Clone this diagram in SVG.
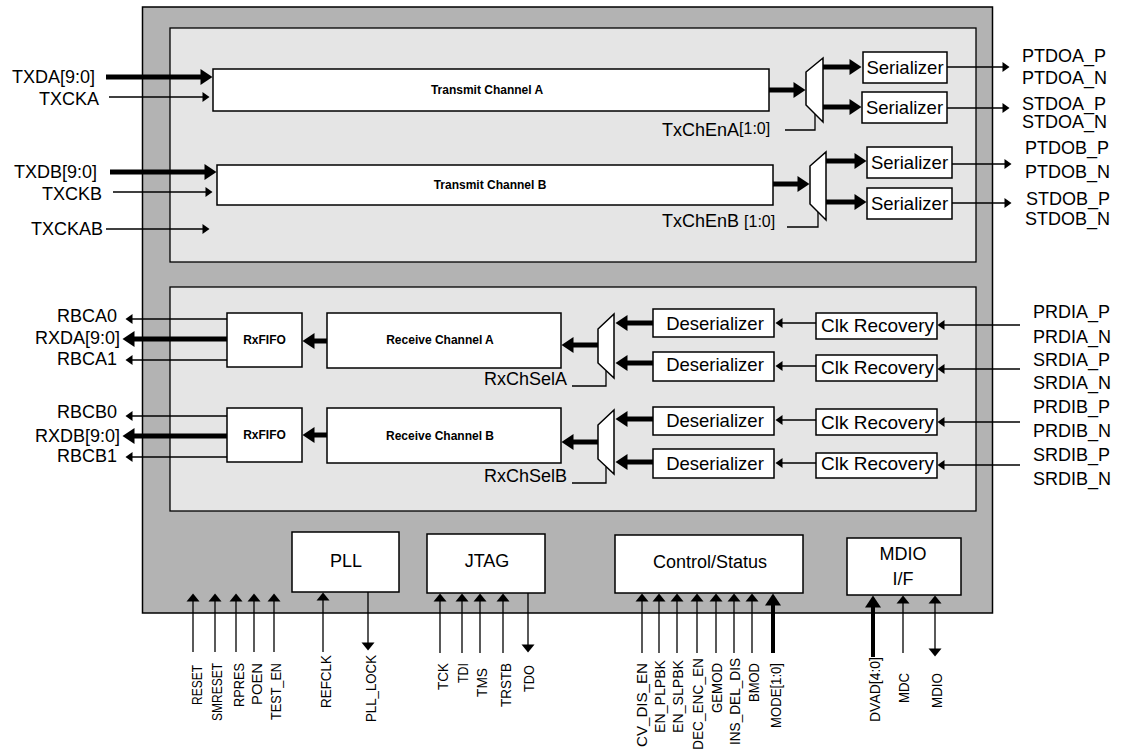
<svg xmlns="http://www.w3.org/2000/svg" width="1125" height="752" viewBox="0 0 1125 752">
<style>
text{font-family:"Liberation Sans",Arial,sans-serif;fill:#000}
.lbl{font-size:18px}
.bt{font-size:18.5px;text-anchor:middle}
.bb{font-size:12px;font-weight:bold;text-anchor:middle}
.pin{font-size:14px;text-anchor:end}
.box{fill:#fff;stroke:#000;stroke-width:1.5}
.thin{fill:none;stroke:#000;stroke-width:1.3;marker-end:url(#ah)}
.thick{fill:none;stroke:#000;stroke-width:5;marker-end:url(#ahT)}
.thickv{fill:none;stroke:#000;stroke-width:4;marker-end:url(#ahT)}
.pinup{fill:none;stroke:#000;stroke-width:1.3;marker-end:url(#ahP)}
.ctl{fill:none;stroke:#000;stroke-width:1.3}
</style>
<defs>
<marker id="ah" markerUnits="userSpaceOnUse" markerWidth="8" markerHeight="11" refX="0.5" refY="5" orient="auto" overflow="visible"><path d="M0,0 L7,5 L0,10z" fill="#000"/></marker>
<marker id="ahP" markerUnits="userSpaceOnUse" markerWidth="9" markerHeight="13" refX="0.5" refY="6.5" orient="auto-start-reverse" overflow="visible"><path d="M0,0 L8,6.5 L0,13z" fill="#000"/></marker>
<marker id="ahT" markerUnits="userSpaceOnUse" markerWidth="13" markerHeight="16" refX="0.5" refY="8" orient="auto" overflow="visible"><path d="M0,0 L12,8 L0,16z" fill="#000"/></marker>
</defs>

<g id="chip">
<rect x="142.5" y="7" width="850" height="606" fill="#b3b3b3" stroke="#000" stroke-width="1.5"/>
<rect x="170" y="28" width="806" height="234" fill="#e5e5e5" stroke="#000" stroke-width="1.3"/>
<rect x="170" y="287" width="806" height="224" fill="#e5e5e5" stroke="#000" stroke-width="1.3"/>
</g>

<g id="tx-channel-a"><rect class="box" x="213" y="69" width="556" height="42"/><text class="bb" x="487" y="93.5">Transmit Channel A</text></g>
<g id="tx-channel-b"><rect class="box" x="217" y="165" width="556" height="40"/><text class="bb" x="490" y="189">Transmit Channel B</text></g>
<g id="tx-mux-a"><polygon class="box" points="806,72 823,58 823,122 806,105"/></g>
<g id="tx-mux-b"><polygon class="box" points="810,166 826,152 826,220 810,204"/></g>
<g id="serializer-a1"><rect class="box" x="863" y="52" width="84" height="31"/><text class="bt" x="905" y="74">Serializer</text></g>
<g id="serializer-a2"><rect class="box" x="862" y="92" width="85" height="31"/><text class="bt" x="904.5" y="113.5">Serializer</text></g>
<g id="serializer-b1"><rect class="box" x="867" y="147" width="85" height="31"/><text class="bt" x="909.5" y="169">Serializer</text></g>
<g id="serializer-b2"><rect class="box" x="867" y="188" width="85" height="31"/><text class="bt" x="909.5" y="210">Serializer</text></g>

<g id="rxfifo-a"><rect class="box" x="227" y="313" width="75" height="54"/><text class="bb" x="264.5" y="344">RxFIFO</text></g>
<g id="rxfifo-b"><rect class="box" x="227" y="408" width="75" height="54"/><text class="bb" x="264.5" y="439">RxFIFO</text></g>
<g id="rx-channel-a"><rect class="box" x="327" y="313" width="234" height="55"/><text class="bb" x="440" y="344">Receive Channel A</text></g>
<g id="rx-channel-b"><rect class="box" x="327" y="408" width="234" height="55"/><text class="bb" x="440" y="440">Receive Channel B</text></g>
<g id="rx-mux-a"><polygon class="box" points="598,329 614,314 614,378 598,363"/></g>
<g id="rx-mux-b"><polygon class="box" points="598,425 614,410 614,474 598,459"/></g>
<g id="deserializer-a1"><rect class="box" x="653" y="309" width="121" height="28"/><text class="bt" x="715" y="330">Deserializer</text></g>
<g id="deserializer-a2"><rect class="box" x="653" y="352" width="121" height="29"/><text class="bt" x="715" y="371">Deserializer</text></g>
<g id="deserializer-b1"><rect class="box" x="653" y="407" width="121" height="28"/><text class="bt" x="715" y="427">Deserializer</text></g>
<g id="deserializer-b2"><rect class="box" x="653" y="449" width="121" height="29"/><text class="bt" x="715" y="469.5">Deserializer</text></g>
<g id="clk-recovery-a1"><rect class="box" x="816" y="313" width="121" height="26"/><text class="lbl" x="821" y="332" style="font-size:19px">Clk Recovery</text></g>
<g id="clk-recovery-a2"><rect class="box" x="816" y="355" width="121" height="26"/><text class="lbl" x="821" y="373.5" style="font-size:19px">Clk Recovery</text></g>
<g id="clk-recovery-b1"><rect class="box" x="816" y="409" width="121" height="26"/><text class="lbl" x="821" y="428.5" style="font-size:19px">Clk Recovery</text></g>
<g id="clk-recovery-b2"><rect class="box" x="816" y="453" width="121" height="25"/><text class="lbl" x="821" y="470" style="font-size:19px">Clk Recovery</text></g>

<g id="pll"><rect class="box" x="292" y="532" width="107" height="60"/><text class="bt" x="346" y="567" style="font-size:18px">PLL</text></g>
<g id="jtag"><rect class="box" x="427" y="534" width="118" height="59"/><text class="bt" x="487" y="567" style="font-size:18px">JTAG</text></g>
<g id="control-status"><rect class="box" x="615" y="535" width="188" height="58"/><text class="bt" x="710" y="568" style="font-size:18px">Control/Status</text></g>
<g id="mdio-if"><rect class="box" x="847" y="538" width="114" height="57"/><text class="bt" x="903" y="560" style="font-size:18px">MDIO</text><text class="bt" x="903" y="585" style="font-size:18px">I/F</text></g>

<g id="connectors">
<path class="thick" d="M106,77 H201"/>
<path class="thin" d="M109,97 H203"/>
<path class="thick" d="M110,172 H205"/>
<path class="thin" d="M113,192 H206"/>
<path class="thin" d="M106,229 H203"/>
<path class="thick" d="M769,90 H794"/>
<path class="thick" d="M823,67 H850"/>
<path class="thick" d="M823,107 H850"/>
<path class="thin" d="M947,67 H1003"/>
<path class="thin" d="M947,108 H1003"/>
<path class="thick" d="M773,184 H798"/>
<path class="thick" d="M826,161 H855"/>
<path class="thick" d="M826,202 H855"/>
<path class="thin" d="M952,164 H1005"/>
<path class="thin" d="M952,203 H1005"/>
<path class="ctl" d="M785,130 H815 V114"/>
<path class="ctl" d="M787,227 H818 V212"/>

<path class="thin" d="M1020,325 H944"/>
<path class="thin" d="M1020,369 H944"/>
<path class="thin" d="M1020,422 H944"/>
<path class="thin" d="M1020,465 H944"/>
<path class="thin" d="M816,323 H782"/>
<path class="thin" d="M816,366 H782"/>
<path class="thin" d="M816,420 H782"/>
<path class="thin" d="M816,463 H782"/>
<path class="thick" d="M653,323 H627"/>
<path class="thick" d="M653,363 H627"/>
<path class="thick" d="M653,419 H627"/>
<path class="thick" d="M653,462 H627"/>
<path class="thick" d="M598,345 H573"/>
<path class="thick" d="M598,442 H573"/>
<path class="thick" d="M327,341 H314"/>
<path class="thick" d="M327,435 H314"/>
<path class="thin" d="M227,319 H132"/>
<path class="thick" d="M227,339 H134"/>
<path class="thin" d="M227,360 H132"/>
<path class="thin" d="M227,416 H132"/>
<path class="thick" d="M227,436 H134"/>
<path class="thin" d="M227,457 H132"/>
<path class="ctl" d="M572,386 H606 V371"/>
<path class="ctl" d="M572,483 H606 V467"/>

<path class="pinup" d="M193,652 V601"/>
<path class="pinup" d="M215,652 V601"/>
<path class="pinup" d="M236,652 V601"/>
<path class="pinup" d="M254,652 V601"/>
<path class="pinup" d="M274,652 V601"/>
<path class="pinup" d="M323,652 V600"/>
<path class="pinup" d="M368,592 V643"/>
<path class="pinup" d="M440,653 V601"/>
<path class="pinup" d="M462,653 V601"/>
<path class="pinup" d="M480,653 V601"/>
<path class="pinup" d="M503,653 V601"/>
<path class="pinup" d="M528,593 V645"/>
<path class="pinup" d="M642,653 V601"/>
<path class="pinup" d="M659,653 V601"/>
<path class="pinup" d="M677,653 V601"/>
<path class="pinup" d="M697,653 V601"/>
<path class="pinup" d="M716,653 V601"/>
<path class="pinup" d="M734,653 V601"/>
<path class="pinup" d="M752,653 V601"/>
<path class="thickv" d="M773,653 V605"/>
<path class="thickv" d="M873,657 V607"/>
<path class="pinup" d="M903,653 V603"/>
<path class="pinup" d="M935,603 V649" style="marker-start:url(#ahP)"/>
</g>

<g id="labels">
<text class="lbl" x="12" y="83">TXDA[9:0]</text>
<text class="lbl" x="39" y="105">TXCKA</text>
<text class="lbl" x="14" y="178">TXDB[9:0]</text>
<text class="lbl" x="42" y="200">TXCKB</text>
<text class="lbl" x="31" y="235">TXCKAB</text>
<text class="lbl" x="1022" y="62">PTDOA_P</text>
<text class="lbl" x="1022" y="84">PTDOA_N</text>
<text class="lbl" x="1022" y="110">STDOA_P</text>
<text class="lbl" x="1022" y="128">STDOA_N</text>
<text class="lbl" x="1025" y="154">PTDOB_P</text>
<text class="lbl" x="1025" y="178">PTDOB_N</text>
<text class="lbl" x="1026" y="205">STDOB_P</text>
<text class="lbl" x="1025" y="225">STDOB_N</text>
<text class="lbl" x="662" y="136">TxChEnA<tspan style="font-size:16px" dy="-2">[1:0]</tspan></text>
<text class="lbl" x="662" y="227">TxChEnB <tspan style="font-size:16px">[1:0]</tspan></text>
<text class="lbl" x="57" y="322">RBCA0</text>
<text class="lbl" x="35" y="344">RXDA[9:0]</text>
<text class="lbl" x="57" y="365">RBCA1</text>
<text class="lbl" x="57" y="418">RBCB0</text>
<text class="lbl" x="35" y="442">RXDB[9:0]</text>
<text class="lbl" x="57" y="462">RBCB1</text>
<text class="lbl" x="484" y="385">RxChSelA</text>
<text class="lbl" x="484" y="482">RxChSelB</text>
<text class="lbl" x="1033" y="318">PRDIA_P</text>
<text class="lbl" x="1033" y="343">PRDIA_N</text>
<text class="lbl" x="1033" y="366">SRDIA_P</text>
<text class="lbl" x="1033" y="389">SRDIA_N</text>
<text class="lbl" x="1033" y="413">PRDIB_P</text>
<text class="lbl" x="1033" y="437">PRDIB_N</text>
<text class="lbl" x="1033" y="461">SRDIB_P</text>
<text class="lbl" x="1033" y="485">SRDIB_N</text>

<text class="pin" transform="translate(201.5,665) rotate(-90)" textLength="40" lengthAdjust="spacingAndGlyphs">RESET</text>
<text class="pin" transform="translate(222,663) rotate(-90)" textLength="58" lengthAdjust="spacingAndGlyphs">SMRESET</text>
<text class="pin" transform="translate(244,663) rotate(-90)" textLength="44" lengthAdjust="spacingAndGlyphs">RPRES</text>
<text class="pin" transform="translate(262,663) rotate(-90)" textLength="42" lengthAdjust="spacingAndGlyphs">POEN</text>
<text class="pin" transform="translate(280.5,663) rotate(-90)" textLength="57" lengthAdjust="spacingAndGlyphs">TEST_EN</text>
<text class="pin" transform="translate(331,655) rotate(-90)" textLength="53" lengthAdjust="spacingAndGlyphs">REFCLK</text>
<text class="pin" transform="translate(375.5,655) rotate(-90)" textLength="67" lengthAdjust="spacingAndGlyphs">PLL_LOCK</text>
<text class="pin" transform="translate(448,663) rotate(-90)" textLength="27" lengthAdjust="spacingAndGlyphs">TCK</text>
<text class="pin" transform="translate(467.5,663) rotate(-90)" textLength="20" lengthAdjust="spacingAndGlyphs">TDI</text>
<text class="pin" transform="translate(487,668) rotate(-90)" textLength="29" lengthAdjust="spacingAndGlyphs">TMS</text>
<text class="pin" transform="translate(511,663) rotate(-90)" textLength="44" lengthAdjust="spacingAndGlyphs">TRSTB</text>
<text class="pin" transform="translate(533.5,665) rotate(-90)" textLength="27" lengthAdjust="spacingAndGlyphs">TDO</text>
<text class="pin" transform="translate(646.5,663) rotate(-90)" textLength="84" lengthAdjust="spacingAndGlyphs">CV_DIS_EN</text>
<text class="pin" transform="translate(665,660) rotate(-90)" textLength="73" lengthAdjust="spacingAndGlyphs">EN_PLPBK</text>
<text class="pin" transform="translate(683,660) rotate(-90)" textLength="73" lengthAdjust="spacingAndGlyphs">EN_SLPBK</text>
<text class="pin" transform="translate(702.5,658) rotate(-90)" textLength="92" lengthAdjust="spacingAndGlyphs">DEC_ENC_EN</text>
<text class="pin" transform="translate(721.5,663) rotate(-90)" textLength="50" lengthAdjust="spacingAndGlyphs">GEMOD</text>
<text class="pin" transform="translate(740,658) rotate(-90)" textLength="87" lengthAdjust="spacingAndGlyphs">INS_DEL_DIS</text>
<text class="pin" transform="translate(758.5,663) rotate(-90)" textLength="39" lengthAdjust="spacingAndGlyphs">BMOD</text>
<text class="pin" transform="translate(781,663) rotate(-90)" textLength="65" lengthAdjust="spacingAndGlyphs">MODE[1:0]</text>
<text class="pin" transform="translate(879.5,657) rotate(-90)" textLength="65" lengthAdjust="spacingAndGlyphs">DVAD[4:0]</text>
<text class="pin" transform="translate(908.5,673) rotate(-90)" textLength="30" lengthAdjust="spacingAndGlyphs">MDC</text>
<text class="pin" transform="translate(942,673) rotate(-90)" textLength="35" lengthAdjust="spacingAndGlyphs">MDIO</text>
</g>
</svg>
